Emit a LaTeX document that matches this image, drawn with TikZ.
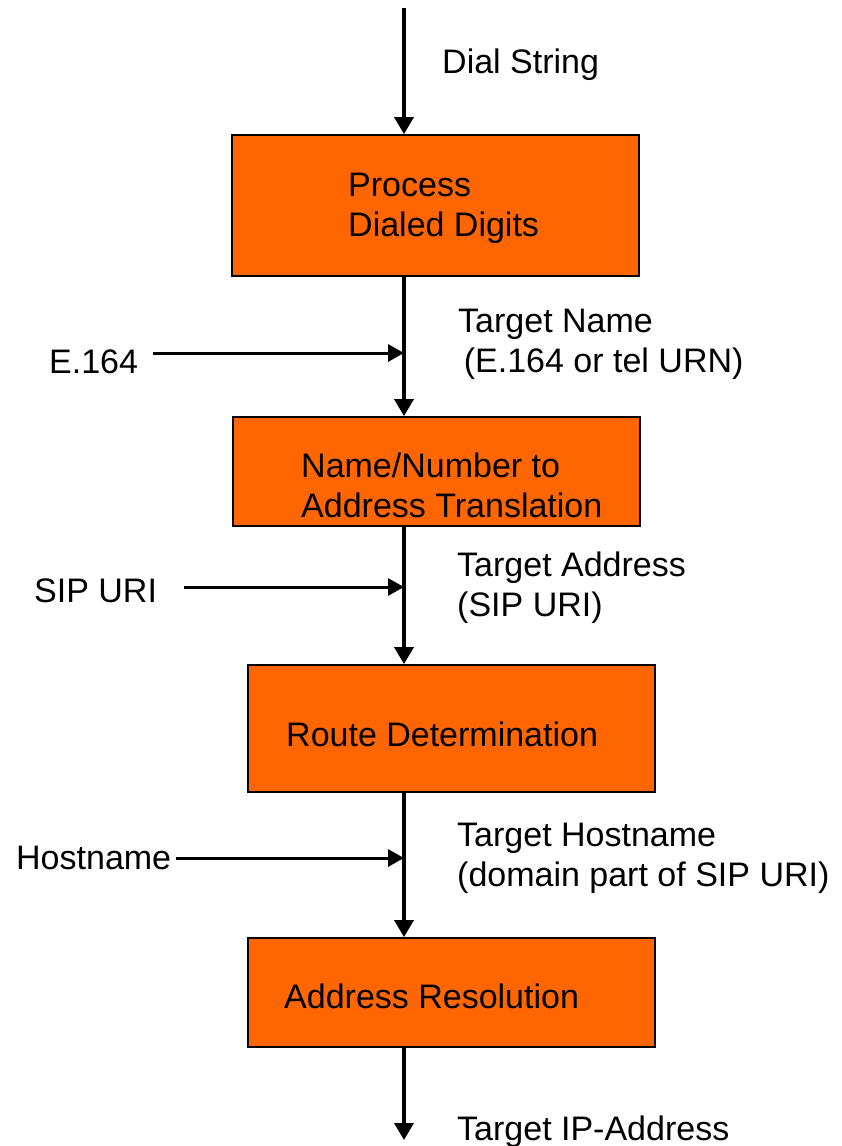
\documentclass[tikz,border=0pt]{standalone}
\usepackage{fontspec}
\setmainfont{Liberation Sans}
\usetikzlibrary{arrows.meta}
\definecolor{boxorange}{HTML}{FF6600}
\tikzset{
  procbox/.style={draw=black, line width=1.8pt, fill=boxorange, rectangle, inner sep=0pt, minimum width=407pt},
  lbl/.style={anchor=base west, inner sep=0pt, align=left, font=\fontsize{34}{40}\selectfont},
  flow/.style={line width=3.5pt, -{Triangle[length=17pt,width=19pt]}},
  feed/.style={line width=3pt, -{Triangle[length=16pt,width=17pt]}}
}
\begin{document}
\begin{tikzpicture}[x=1pt,y=-1pt]
\useasboundingbox (0,0) rectangle (841,1146);
% boxes
\node[procbox, minimum height=141pt] (b1) at (435.5,205.5) {};
\node[procbox, minimum height=109pt] (b2) at (436.5,471.5) {};
\node[procbox, minimum height=127pt] (b3) at (451.5,728.5) {};
\node[procbox, minimum height=109pt] (b4) at (451.5,992.5) {};
% box texts (base = baseline of last line)
\node[lbl] (t1) at (348,236) {Process\\Dialed Digits};
\node[lbl] (t2) at (301,517) {Name/Number to\\Address Translation};
\node[lbl] (t3) at (286,746) {Route Determination};
\node[lbl] (t4) at (284,1008) {Address Resolution};
% spine
\coordinate (spine) at (404,0);
\coordinate (start) at (404,8);
\coordinate (finish) at (404,1140);
\draw[flow] (start) -- (spine |- b1.north);
\draw[flow] (spine |- b1.south) -- (spine |- b2.north);
\draw[flow] (spine |- b2.south) -- (spine |- b3.north);
\draw[flow] (spine |- b3.south) -- (spine |- b4.north);
\draw[flow] (spine |- b4.south) -- (finish);
% flow labels
\node[lbl] (l0) at (442,73) {Dial String};
\node[lbl] (l1) at (458,372) {Target Name\\\mbox{}\,(E.164 or tel URN)};
\node[lbl] (l2) at (457,616) {Target Address\\(SIP URI)};
\node[lbl] (l3) at (457,886) {Target Hostname\\(domain part of SIP URI)};
\node[lbl] (l4) at (457,1140) {Target IP-Address};
% side inputs
\node[lbl] (i1) at (49,373) {E.164};
\node[lbl] (i2) at (34,602) {SIP URI};
\node[lbl] (i3) at (16,869) {Hostname};
\coordinate (s1) at (153,353);
\coordinate (s2) at (184,587);
\coordinate (s3) at (176,858);
\draw[feed] (s1) -- (spine |- s1);
\draw[feed] (s2) -- (spine |- s2);
\draw[feed] (s3) -- (spine |- s3);
\end{tikzpicture}
\end{document}
